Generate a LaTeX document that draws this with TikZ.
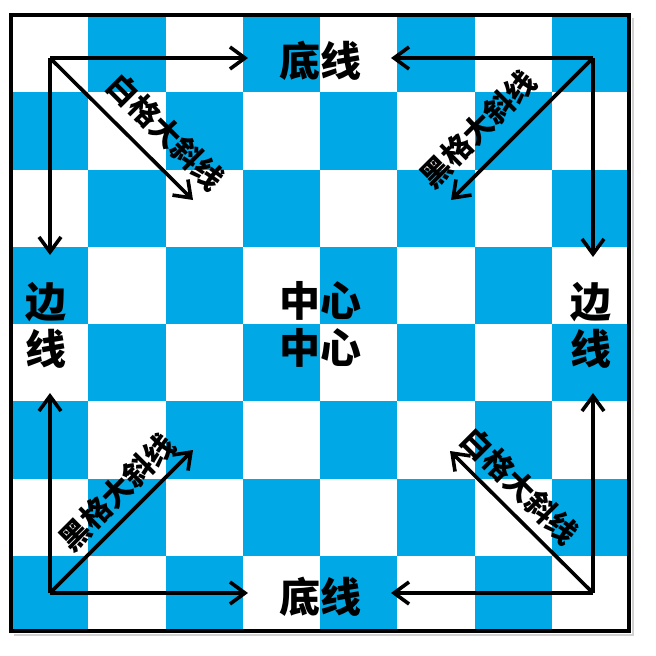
\documentclass[tikz,border=0pt]{standalone}
\usepackage{fontspec}
\newfontfamily\cjk{Noto Sans CJK SC}
\usetikzlibrary{arrows.meta}
\definecolor{boardblue}{RGB}{0,168,230}
\begin{document}
\begin{tikzpicture}[x=1pt,y=-1pt,
  arr/.style={line width=3.6pt, -{Straight Barb[length=15pt,width=22pt,line width=3.6pt]}},
  big/.style={font=\cjk\bfseries\fontsize{41}{47}\selectfont, inner sep=0pt, align=center},
  diag/.style={font=\cjk\bfseries\fontsize{30}{30}\selectfont, inner sep=0pt}]
\useasboundingbox (0,0) rectangle (656,656);
\fill[white] (0,0) rectangle (656,656);
\foreach \i in {0,...,7}{\foreach \j in {0,...,7}{
  \pgfmathtruncatemacro\p{mod(\i+\j,2)}
  \ifnum\p=1 \fill[boardblue] ({11+77.25*\i},{15+77.25*\j}) rectangle ++(77.25,77.25); \fi
}}
\draw[black!18, line width=2pt] (632.5,18) -- (632.5,634.5) -- (14,634.5);
\draw[line width=3.5pt] (11,15) rectangle (629,631);
% corners and arrow ends
\coordinate (tl) at (50,58);
\coordinate (tr) at (593,58);
\coordinate (bl) at (50,593);
\coordinate (br) at (593,593);
\coordinate (tlh) at (248,58);
\coordinate (tlv) at (50,255);
\coordinate (tld) at (193,200);
\coordinate (trh) at (391,58);
\coordinate (trv) at (593,257);
\coordinate (trd) at (451,200);
\coordinate (blh) at (248,593);
\coordinate (blv) at (50,393);
\coordinate (bld) at (193,450);
\coordinate (brh) at (391,593);
\coordinate (brv) at (593,393);
\coordinate (brd) at (450,451);
\draw[arr] (tl) -- (tlh);
\draw[arr] (tl) -- (tlv);
\draw[arr] (tl) -- (tld);
\draw[arr] (tr) -- (trh);
\draw[arr] (tr) -- (trv);
\draw[arr] (tr) -- (trd);
\draw[arr] (bl) -- (blh);
\draw[arr] (bl) -- (blv);
\draw[arr] (bl) -- (bld);
\draw[arr] (br) -- (brh);
\draw[arr] (br) -- (brv);
\draw[arr] (br) -- (brd);
% labels
\node[big] (topl) at (320,61) {底线};
\node[big] (botl) at (320,597) {底线};
\node[big] (leftl) at (46,325) {边\\线};
\node[big] (rightl) at (591,325) {边\\线};
\node[big] (centl) at (320,324) {中心\\中心};
\node[diag, rotate=-45] (dtl) at (166,132) {白格大斜线};
\node[diag, rotate=45] (dtr) at (478,129) {黑格大斜线};
\node[diag, rotate=45] (dbl) at (117,492) {黑格大斜线};
\node[diag, rotate=-45] (dbr) at (520,486) {白格大斜线};
\end{tikzpicture}
\end{document}
